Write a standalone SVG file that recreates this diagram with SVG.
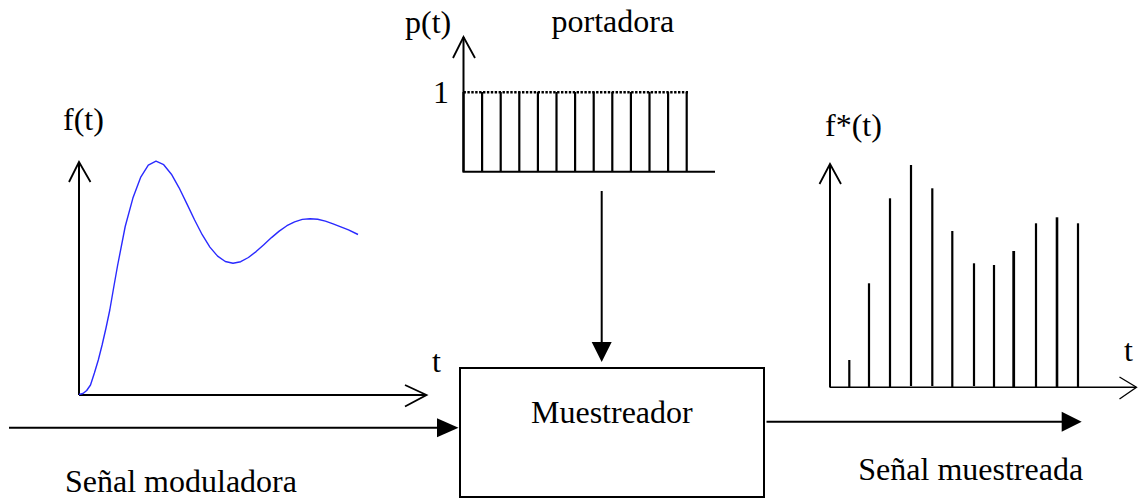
<svg xmlns="http://www.w3.org/2000/svg" width="1138" height="500" viewBox="0 0 1138 500">
<style>
text{font-family:"Liberation Serif","Times New Roman",serif;font-size:32px;fill:#000}
.ax{stroke:#000;stroke-width:2;fill:none}
.chev{stroke:#000;stroke-width:1.8;fill:none;stroke-linejoin:miter}
.bar{stroke:#000;stroke-width:2.2}
.wire{stroke:#000;stroke-width:2;fill:none}
.head{fill:#000;stroke:none}
</style>
<rect width="1138" height="500" fill="#fff"/>

<g id="graph-ft">
  <line class="ax" x1="79" y1="162" x2="79" y2="395"/>
  <polyline class="chev" points="69,182 79,162 90.5,182"/>
  <line class="ax" x1="79" y1="395" x2="426" y2="395"/>
  <polyline class="chev" points="405,385 426.5,395 405,406.5"/>
  <polyline fill="none" stroke="#2a2aff" stroke-width="1.4" stroke-linejoin="round" points="79,394.5 83,393.5 86.7,390.5 90.5,385 94.4,373 98.3,360 102.1,345 106,328 109.8,310 113.6,288 117.5,266 125.2,226.5 132.9,198.1 140.6,177.4 148.3,165.1 156,161.2 163.7,164.7 171.4,174.2 179.1,187.8 186.8,203.6 194.5,219.8 202.2,234.7 209.9,247.1 217.6,256.1 225.3,261.5 233,263.2 240.7,261.7 248.4,257.5 256.1,251.6 263.8,244.7 271.5,237.6 279.2,231.1 286.9,225.7 294.6,221.8 302.3,219.4 310,218.7 317.7,219.3 325.4,221.1 333.1,223.8 340.8,226.8 348.5,229.8 358,234.5"/>
  <text x="63" y="130">f(t)</text>
  <text x="432" y="372">t</text>
</g>

<g id="graph-pt">
  <line class="ax" x1="463.5" y1="37" x2="463.5" y2="172"/>
  <polyline class="chev" points="453,58 463.5,37 475,58"/>
  <line class="ax" x1="462.5" y1="171.7" x2="715" y2="171.7"/>
  <line x1="463.5" y1="92.3" x2="688" y2="92.3" stroke="#000" stroke-width="2.6" stroke-dasharray="2.4 1.5"/>
  <g class="bar">
    <line x1="463.5" y1="92" x2="463.5" y2="171"/>
    <line x1="482.1" y1="92" x2="482.1" y2="171"/>
    <line x1="500.7" y1="92" x2="500.7" y2="171"/>
    <line x1="519.3" y1="92" x2="519.3" y2="171"/>
    <line x1="537.9" y1="92" x2="537.9" y2="171"/>
    <line x1="556.5" y1="92" x2="556.5" y2="171"/>
    <line x1="575.1" y1="92" x2="575.1" y2="171"/>
    <line x1="593.7" y1="92" x2="593.7" y2="171"/>
    <line x1="612.3" y1="92" x2="612.3" y2="171"/>
    <line x1="630.9" y1="92" x2="630.9" y2="171"/>
    <line x1="649.5" y1="92" x2="649.5" y2="171"/>
    <line x1="668.1" y1="92" x2="668.1" y2="171"/>
    <line x1="686.7" y1="92" x2="686.7" y2="171"/>
  </g>
  <text x="405" y="33">p(t)</text>
  <text x="551.5" y="32">portadora</text>
  <text x="433" y="103">1</text>
</g>

<g id="graph-fstar">
  <line class="ax" x1="830" y1="164" x2="830" y2="387.5"/>
  <polyline class="chev" points="819.5,184 830,164 841,184"/>
  <line x1="830" y1="387.3" x2="1136" y2="387.3" stroke="#000" stroke-width="1.5"/>
  <polyline points="1119.5,377 1136.5,387.3 1119.5,399" fill="none" stroke="#000" stroke-width="1.3"/>
  <g class="bar">
    <line x1="849.3" y1="360" x2="849.3" y2="387"/>
    <line x1="869" y1="283.3" x2="869" y2="387"/>
    <line x1="890" y1="198.3" x2="890" y2="387"/>
    <line x1="911" y1="165" x2="911" y2="386"/>
    <line x1="932.3" y1="188.3" x2="932.3" y2="386"/>
    <line x1="952.3" y1="231" x2="952.3" y2="387"/>
    <line x1="974" y1="263.3" x2="974" y2="386"/>
    <line x1="994" y1="265" x2="994" y2="387"/>
    <line x1="1013.7" y1="251" x2="1013.7" y2="387" stroke-width="2.8"/>
    <line x1="1036" y1="223.3" x2="1036" y2="387"/>
    <line x1="1057" y1="217.3" x2="1057" y2="387" stroke-width="2.6"/>
    <line x1="1078" y1="223.3" x2="1078" y2="387"/>
  </g>
  <text x="825" y="136">f*(t)</text>
  <text x="1124" y="361">t</text>
</g>

<g id="node-muestreador">
  <rect x="460" y="368" width="304" height="129" fill="#fff" stroke="#000" stroke-width="2"/>
  <text x="531" y="422.7">Muestreador</text>
</g>

<g id="connectors">
  <line class="wire" x1="9" y1="427.7" x2="440" y2="427.7"/>
  <polygon class="head" points="437,418.2 458.5,427.7 437,437.2"/>
  <line class="wire" x1="601.7" y1="191" x2="601.7" y2="344"/>
  <polygon class="head" points="591.7,342 611.7,342 601.7,362"/>
  <line class="wire" x1="766.5" y1="421.7" x2="1064" y2="421.7"/>
  <polygon class="head" points="1061.7,411.7 1081.7,421.7 1061.7,431.7"/>
</g>

<g id="labels">
  <text x="65" y="491.7">Señal moduladora</text>
  <text x="858.3" y="480">Señal muestreada</text>
</g>
</svg>
